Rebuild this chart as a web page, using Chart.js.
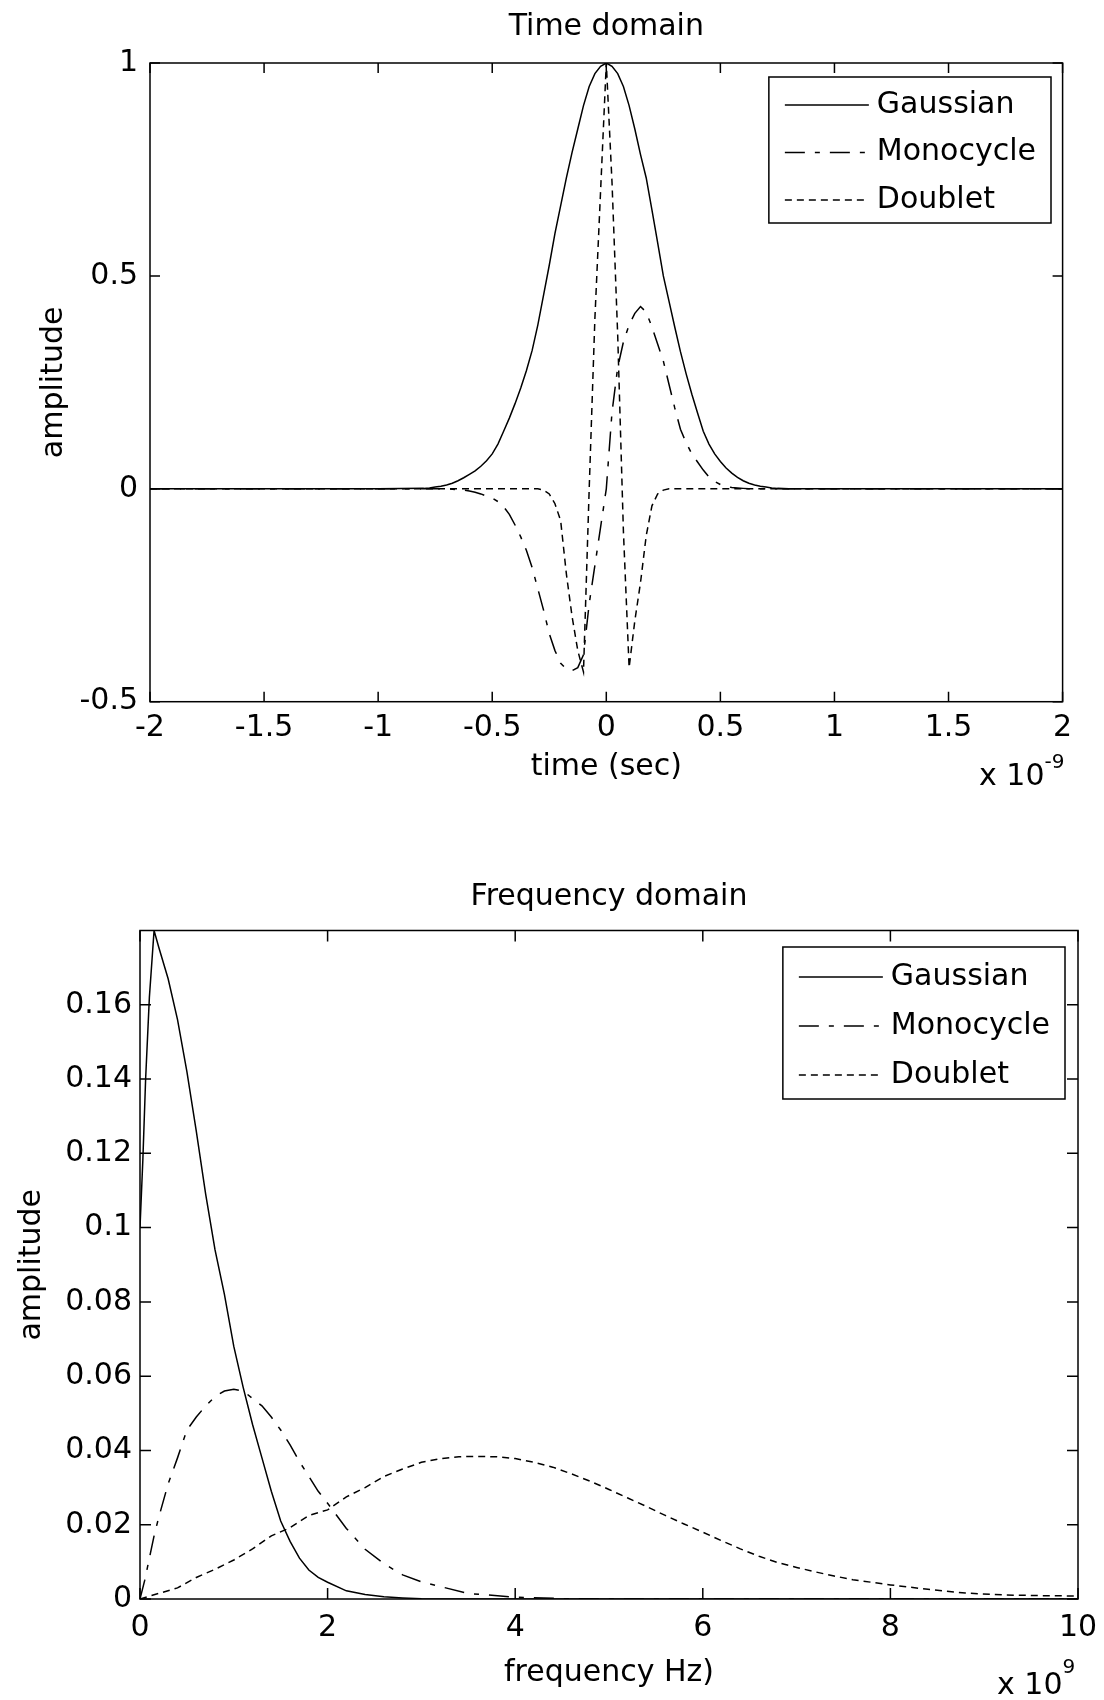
<!DOCTYPE html>
<html>
<head>
<meta charset="utf-8">
<script src="https://cdn.jsdelivr.net/npm/chart.js@4.4.0/dist/chart.umd.min.js"></script>
<style>
  html, body { margin: 0; padding: 0; background: #fff; }
  #wrap { position: relative; width: 1104px; height: 1700px; }
  canvas { position: absolute; left: 0; }
  #timeChart { top: 0; }
  #freqChart { top: 820px; }
</style>
</head>
<body>
<div id="wrap">
  <canvas id="timeChart" width="1104" height="820"></canvas>
  <canvas id="freqChart" width="1104" height="880"></canvas>
</div>
<script>
// time axis in units of 1e-9 s
const timeGrid = [-2, -1,
  -0.8, -0.775, -0.75, -0.725, -0.7, -0.675, -0.65, -0.625, -0.6, -0.575, -0.55, -0.525,
  -0.5, -0.475, -0.45, -0.425, -0.4, -0.375, -0.35, -0.325, -0.3, -0.275, -0.25, -0.225,
  -0.2, -0.175, -0.15, -0.125, -0.1, -0.075, -0.05, -0.025, 0,
  0.025, 0.05, 0.075, 0.1, 0.125, 0.15, 0.175, 0.2, 0.225, 0.25, 0.275, 0.3,
  0.325, 0.35, 0.375, 0.4, 0.425, 0.45, 0.475, 0.5, 0.525, 0.55, 0.575, 0.6,
  0.625, 0.65, 0.675, 0.7, 0.725, 0.75, 0.775, 0.8,
  1, 2];

const gaussianTime = [0, 0,
  0.001, 0.002, 0.004, 0.006, 0.009, 0.013, 0.019, 0.026, 0.034, 0.042, 0.053, 0.066,
  0.082, 0.105, 0.135, 0.166, 0.200, 0.237, 0.278, 0.325, 0.385, 0.455, 0.525, 0.600,
  0.665, 0.730, 0.790, 0.845, 0.900, 0.945, 0.975, 0.992, 1.000,
  0.992, 0.975, 0.945, 0.900, 0.845, 0.785, 0.730, 0.655, 0.578, 0.500, 0.440, 0.380,
  0.322, 0.270, 0.222, 0.178, 0.135, 0.105, 0.082, 0.064, 0.049, 0.037, 0.027, 0.019,
  0.013, 0.009, 0.006, 0.004, 0.002, 0.001, 0.0005, 0,
  0, 0];

const monocycleTime = [0, 0,
  0, 0, 0, 0, 0, -0.001, -0.002, -0.003, -0.005, -0.008, -0.012, -0.017,
  -0.022, -0.03, -0.042, -0.06, -0.085, -0.113, -0.145, -0.185, -0.235, -0.285, -0.34, -0.38,
  -0.41, -0.423, -0.427, -0.42, -0.39, -0.27, -0.18, -0.09, 0,
  0.18, 0.285, 0.345, 0.385, 0.412, 0.428, 0.415, 0.38, 0.34, 0.30, 0.245, 0.19,
  0.14, 0.108, 0.082, 0.063, 0.044, 0.028, 0.017, 0.01, 0.006, 0.003, 0.002, 0.001,
  0, 0, 0, 0, 0, 0, 0, 0,
  0, 0];

const doubletTime = [0, 0,
  0, 0, 0, 0, 0, 0, 0, 0, 0, 0, 0, 0,
  0, 0, 0, 0, 0, 0, 0, 0, 0, -0.003, -0.012, -0.035,
  -0.075, -0.2, -0.30, -0.38, -0.43, 0.0, 0.40, 0.70, 1.0,
  0.72, 0.36, -0.10, -0.42, -0.31, -0.22, -0.11, -0.04, -0.012, -0.003, 0, 0,
  0, 0, 0, 0, 0, 0, 0, 0, 0, 0, 0, 0,
  0, 0, 0, 0, 0, 0, 0, 0,
  0, 0];

// frequency axis in units of 1e9 Hz
const gaussFreq = [0, 0.03, 0.06, 0.1, 0.15, 0.2, 0.3, 0.4, 0.5, 0.6, 0.7, 0.8, 0.9, 1.0,
  1.1, 1.2, 1.3, 1.4, 1.5, 1.6, 1.7, 1.8, 1.9, 2.0, 2.2, 2.4, 2.6, 2.8, 3.0, 3.5, 4, 5, 6, 7, 8, 9, 10];
const gaussSpec = [0.100, 0.118, 0.140, 0.162, 0.180, 0.1755, 0.167, 0.156, 0.142, 0.126, 0.109, 0.094, 0.082, 0.068,
  0.057, 0.047, 0.038, 0.029, 0.021, 0.0155, 0.011, 0.0078, 0.0058, 0.0045, 0.0022, 0.0012, 0.0006, 0.0003, 0.0001, 0, 0, 0, 0, 0, 0, 0, 0];

const monoFreq = [0, 0.05, 0.1, 0.15, 0.2, 0.3, 0.4, 0.5, 0.6, 0.7, 0.8, 0.9, 1.0, 1.1, 1.2,
  1.3, 1.4, 1.5, 1.6, 1.7, 1.8, 1.9, 2.0, 2.2, 2.4, 2.6, 2.8, 3.0, 3.5, 4.0, 4.5, 5, 6, 7, 8, 9, 10];
const monoSpec = [0, 0.005, 0.011, 0.017, 0.022, 0.031, 0.038, 0.0455, 0.049, 0.052, 0.0545, 0.056, 0.0565, 0.056, 0.054,
  0.052, 0.049, 0.0455, 0.0415, 0.037, 0.033, 0.029, 0.0258, 0.019, 0.0134, 0.0095, 0.0065, 0.0046, 0.0015, 0.0005, 0.0001, 0, 0, 0, 0, 0, 0];

const doubFreq = [0, 0.2, 0.4, 0.6, 0.8, 1.0, 1.2, 1.4, 1.6, 1.8, 2.0, 2.2, 2.4, 2.6, 2.8, 3.0,
  3.2, 3.4, 3.6, 3.8, 4.0, 4.2, 4.4, 4.6, 4.8, 5.0, 5.2, 5.4, 5.6, 5.8, 6.0, 6.2, 6.4, 6.6,
  6.8, 7.0, 7.2, 7.4, 7.6, 7.8, 8.0, 8.4, 8.8, 9.2, 9.6, 10];
const doubSpec = [0, 0.0015, 0.003, 0.0058, 0.008, 0.0105, 0.0135, 0.017, 0.0192, 0.0225, 0.024, 0.0275, 0.030, 0.033, 0.035, 0.0368,
  0.0378, 0.0383, 0.0384, 0.0383, 0.0378, 0.0368, 0.0355, 0.0337, 0.0317, 0.0295, 0.0272, 0.0249, 0.0225, 0.0202, 0.018, 0.0157, 0.0135, 0.0115,
  0.0098, 0.0085, 0.0073, 0.0062, 0.0052, 0.0045, 0.0038, 0.0026, 0.0016, 0.0011, 0.0009, 0.0008];

const timeTicksX = [-2, -1.5, -1, -0.5, 0, 0.5, 1, 1.5, 2];
const timeTicksY = [-0.5, 0, 0.5, 1];
const freqTicksX = [0, 2, 4, 6, 8, 10];
const freqTicksY = [0, 0.02, 0.04, 0.06, 0.08, 0.1, 0.12, 0.14, 0.16];

const seriesNames = ['Gaussian', 'Monocycle', 'Doublet'];
const seriesDash = [[], [20, 10, 5, 10], [7, 5]];

const FONT = '"DejaVu Sans", sans-serif';

function toPoints(xs, ys) {
  return xs.map((x, i) => ({x: x, y: ys[i]}));
}

function makeDatasets(pairs) {
  return pairs.map((p, i) => ({
    label: seriesNames[i],
    data: toPoints(p[0], p[1]),
    borderColor: '#000',
    borderWidth: 1.5,
    borderDash: seriesDash[i],
    pointRadius: 0,
    tension: 0,
    fill: false
  }));
}

// box, inward ticks, legend box and the x10^n label, drawn in the matlab way
const matlabFrame = {
  id: 'matlabFrame',
  afterDatasetsDraw(chart, args, opts) {
    const {ctx, chartArea: a, scales: {x, y}} = chart;
    const len = opts.tickLen;
    ctx.save();
    ctx.strokeStyle = '#000';
    ctx.lineWidth = 1.5;
    ctx.setLineDash([]);
    ctx.strokeRect(a.left, a.top, a.right - a.left, a.bottom - a.top);
    ctx.beginPath();
    x.ticks.forEach(t => {
      const px = x.getPixelForValue(t.value);
      ctx.moveTo(px, a.bottom); ctx.lineTo(px, a.bottom - len);
      ctx.moveTo(px, a.top); ctx.lineTo(px, a.top + len);
    });
    y.ticks.forEach(t => {
      const py = y.getPixelForValue(t.value);
      ctx.moveTo(a.left, py); ctx.lineTo(a.left + len, py);
      ctx.moveTo(a.right, py); ctx.lineTo(a.right - len, py);
    });
    ctx.stroke();
    ctx.restore();
  },
  afterDraw(chart, args, opts) {
    const {ctx, chartArea: a} = chart;
    const lg = opts.legend;
    const sets = chart.data.datasets;
    ctx.save();
    ctx.font = '30px ' + FONT;
    const textW = Math.max(...sets.map(d => ctx.measureText(d.label).width));
    const width = lg.padL + lg.sample + lg.gap + textW + lg.padR;
    const right = a.right - lg.right;
    const left = right - width;
    const top = a.top + lg.top;
    ctx.fillStyle = '#fff';
    ctx.fillRect(left, top, width, lg.height);
    ctx.strokeStyle = '#000';
    ctx.lineWidth = 1.5;
    ctx.strokeRect(left, top, width, lg.height);
    sets.forEach((d, i) => {
      const cy = top + lg.first + i * lg.rowH;
      ctx.beginPath();
      ctx.setLineDash(d.borderDash);
      ctx.lineWidth = d.borderWidth;
      ctx.moveTo(left + lg.padL, cy);
      ctx.lineTo(left + lg.padL + lg.sample, cy);
      ctx.stroke();
      ctx.setLineDash([]);
      ctx.fillStyle = '#000';
      ctx.textAlign = 'left';
      ctx.textBaseline = 'middle';
      ctx.fillText(d.label, left + lg.padL + lg.sample + lg.gap, cy);
    });
    const ex = opts.exponent;
    ctx.fillStyle = '#000';
    ctx.textAlign = 'left';
    ctx.textBaseline = 'middle';
    ctx.font = '30px ' + FONT;
    ctx.fillText(ex.base, ex.x, ex.y);
    const w = ctx.measureText(ex.base).width;
    ctx.font = '20px ' + FONT;
    ctx.fillText(ex.power, ex.x + w, ex.y + ex.dy);
    ctx.restore();
  }
};

function axisTicks(list) {
  return (scale) => { scale.ticks = list.map(v => ({value: v})); };
}

function makeChart(id, cfg) {
  return new Chart(document.getElementById(id), {
    type: 'line',
    data: {datasets: cfg.datasets},
    plugins: [matlabFrame],
    options: {
      responsive: false,
      animation: false,
      devicePixelRatio: 1,
      events: [],
      layout: {padding: cfg.padding},
      plugins: {
        legend: {display: false},
        tooltip: {enabled: false},
        title: {
          display: true, text: cfg.title, color: '#000', fullSize: false,
          font: {family: FONT, size: 30, weight: 'normal'},
          padding: cfg.titlePad
        },
        matlabFrame: cfg.frame
      },
      scales: {
        x: {
          type: 'linear', min: cfg.xMin, max: cfg.xMax,
          afterBuildTicks: axisTicks(cfg.xTicks),
          afterFit: (s) => { s.height = cfg.xHeight; },
          // grid hidden; tickLength only offsets the labels (frame plugin draws the ticks)
          grid: {display: false, drawTicks: true, tickLength: cfg.xTickGap},
          border: {display: false},
          ticks: {color: '#000', font: {family: FONT, size: 30}, padding: 4,
                  maxRotation: 0, autoSkip: false, callback: (v) => String(v)},
          title: {display: true, text: cfg.xTitle, color: '#000',
                  font: {family: FONT, size: 30}, padding: {top: 0, bottom: cfg.xTitlePad}}
        },
        y: {
          type: 'linear', min: cfg.yMin, max: cfg.yMax,
          afterBuildTicks: axisTicks(cfg.yTicks),
          afterFit: (s) => { s.width = cfg.yWidth; },
          grid: {display: false, drawTicks: false},
          border: {display: false},
          ticks: {color: '#000', font: {family: FONT, size: 30}, padding: cfg.yTickPad,
                  autoSkip: false, callback: (v) => String(v)},
          title: {display: true, text: 'amplitude', color: '#000',
                  font: {family: FONT, size: 30}, padding: {top: cfg.yTitlePad, bottom: 0}}
        }
      }
    }
  });
}

makeChart('timeChart', {
  datasets: makeDatasets([[timeGrid, gaussianTime], [timeGrid, monocycleTime], [timeGrid, doubletTime]]),
  title: 'Time domain',
  titlePad: {top: 9, bottom: 18},
  padding: {left: 0, right: 41.4, top: 0, bottom: 0},
  xMin: -2, xMax: 2, xTicks: timeTicksX, xHeight: 118.3, xTickGap: 5,
  xTitle: 'time (sec)', xTitlePad: 35,
  yMin: -0.5, yMax: 1, yTicks: timeTicksY, yWidth: 150, yTickPad: 12, yTitlePad: 36,
  frame: {
    tickLen: 10,
    legend: {right: 11.6, top: 14, height: 146, first: 28, rowH: 47.5, padL: 16, sample: 84, gap: 8, padR: 15},
    exponent: {base: 'x 10', power: '-9', x: 979, y: 777, dy: -14}
  }
});

makeChart('freqChart', {
  datasets: makeDatasets([[gaussFreq, gaussSpec], [monoFreq, monoSpec], [doubFreq, doubSpec]]),
  title: 'Frequency domain',
  titlePad: {top: 59, bottom: 15.5},
  padding: {left: 0, right: 26, top: 0, bottom: 0},
  xMin: 0, xMax: 10, xTicks: freqTicksX, xHeight: 101, xTickGap: 7,
  xTitle: 'frequency Hz)', xTitlePad: 9,
  yMin: 0, yMax: 0.18, yTicks: freqTicksY, yWidth: 140, yTickPad: 8, yTitlePad: 14.5,
  frame: {
    tickLen: 11,
    legend: {right: 13, top: 16.5, height: 152, first: 30, rowH: 49, padL: 16, sample: 84, gap: 8, padR: 15},
    exponent: {base: 'x 10', power: '9', x: 997, y: 866, dy: -18}
  }
});
</script>
</body>
</html>
